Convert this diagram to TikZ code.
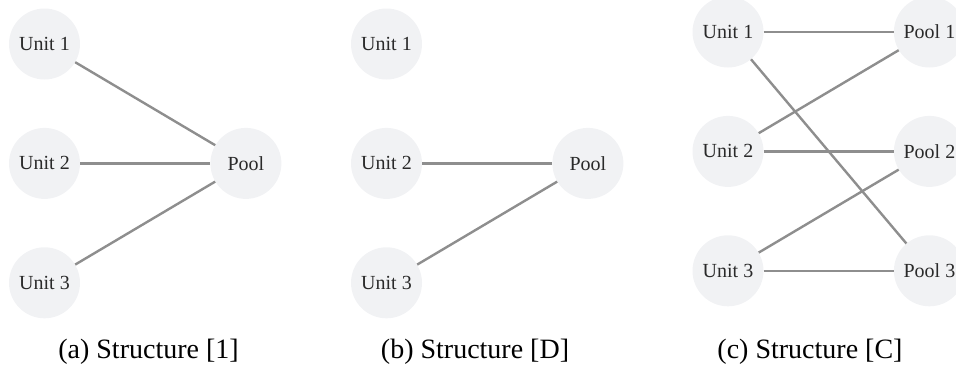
\documentclass[tikz,border=0pt]{standalone}
\usepackage{fontspec}
\setmainfont{Liberation Serif}
\usetikzlibrary{positioning,calc}
\definecolor{unitgray}{HTML}{F1F2F4}
\definecolor{linkgray}{HTML}{8E8E8E}
\definecolor{textgray}{HTML}{2A2A2A}
\def\rowgap{48pt}
\def\colgap{130pt}

\begin{document}
\begin{tikzpicture}[x=1pt,y=1pt,
    unit/.style={circle, fill=unitgray, inner sep=0pt, minimum size=71pt,
      text=textgray, font=\fontsize{20}{22}\selectfont},
    link/.style={linkgray, line width=2.4pt},
    caption/.style={font=\fontsize{28}{30}\selectfont, text=black}
  ]
\useasboundingbox (0,0) rectangle (956,376);

% (a)
\node[unit] (A1) at (44.5,332) {Unit 1};
\node[unit, below=\rowgap of A1] (A2) {Unit 2};
\node[unit, below=\rowgap of A2] (A3) {Unit 3};
\node[unit, right=\colgap of A2] (AP) {Pool};
\draw[link] (A1) -- (AP);
\draw[link] (A2) -- (AP);
\draw[link] (A3) -- (AP);
\node[caption] (capA) at (148.5,24) {(a) Structure [1]};

% (b)
\node[unit] (B1) at (386.5,332) {Unit 1};
\node[unit, below=\rowgap of B1] (B2) {Unit 2};
\node[unit, below=\rowgap of B2] (B3) {Unit 3};
\node[unit, right=\colgap of B2] (BP) {Pool};
\draw[link] (B2) -- (BP);
\draw[link] (B3) -- (BP);
\node[caption] (capB) at (475,24) {(b) Structure [D]};

% (c)
\node[unit] (C1) at (728,344) {Unit 1};
\node[unit, below=\rowgap of C1] (C2) {Unit 2};
\node[unit, below=\rowgap of C2] (C3) {Unit 3};
\node[unit, right=\colgap of C1] (CP1) {Pool 1};
\node[unit, right=\colgap of C2] (CP2) {Pool 2};
\node[unit, right=\colgap of C3] (CP3) {Pool 3};
\draw[link] (C1) -- (CP1);
\draw[link] (C1) -- (CP3);
\draw[link] (C2) -- (CP1);
\draw[link] (C2) -- (CP2);
\draw[link] (C3) -- (CP2);
\draw[link] (C3) -- (CP3);
\node[caption] (capC) at (810,24) {(c) Structure [C]};

\end{tikzpicture}
\end{document}
